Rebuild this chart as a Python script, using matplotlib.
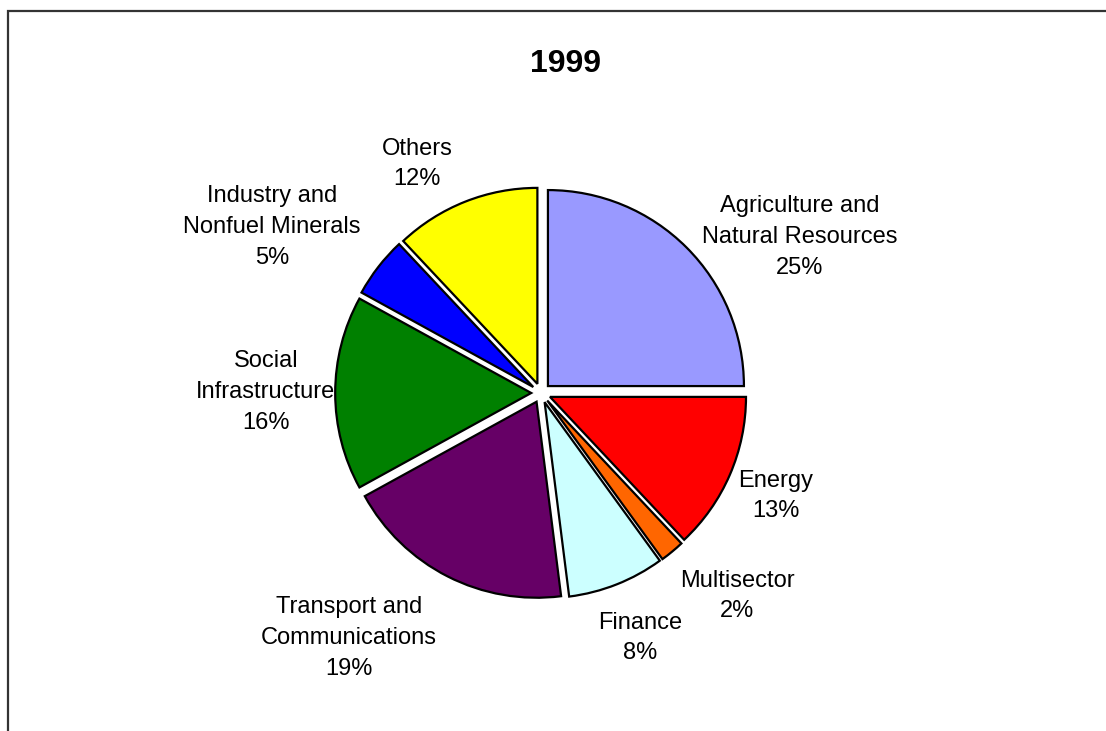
import matplotlib
matplotlib.use('Agg')
import matplotlib.pyplot as plt
from matplotlib.patches import Rectangle

plt.rcParams['font.family'] = ['Liberation Sans', 'DejaVu Sans']

sectors = ['Agriculture and\nNatural Resources', 'Energy', 'Multisector', 'Finance',
           'Transport and\nCommunications', 'Social\nInfrastructure',
           'Industry and\nNonfuel Minerals', 'Others']
shares = [25, 13, 2, 8, 19, 16, 5, 12]
colors = ['#9999FF', '#FF0000', '#FF6600', '#CCFFFF', '#660066', '#008000', '#0000FF', '#FFFF00']

# label centres in pixels (x from left, y from top)
label_px = [(800, 237), (776, 496), (737, 596), (640, 638),
            (349, 638), (266, 392), (272, 227), (417, 164)]

W, H = 1106, 731
fig = plt.figure(figsize=(W / 100, H / 100), dpi=100)

# pie centre about (541, 393) px, radius ~196 px
cx, cy, half = 541, 393, 245
ax = fig.add_axes([(cx - half) / W, (H - cy - half) / H, 2 * half / W, 2 * half / H])
ax.pie(shares, colors=colors, startangle=90, counterclock=False,
       explode=[0.05] * len(shares),
       wedgeprops=dict(edgecolor='black', linewidth=1.6))
ax.set_xlim(-1.25, 1.25)
ax.set_ylim(-1.25, 1.25)
ax.set_aspect('equal')
ax.axis('off')

for name, val, (px, py) in zip(sectors, shares, label_px):
    fig.text(px / W, 1 - py / H, f'{name}\n{val}%', ha='center', va='center',
             fontsize=17, linespacing=1.52)

fig.text(565 / W, 1 - 64 / H, '1999', ha='center', va='center',
         fontsize=23, fontweight='bold')

# chart area border (runs off right and bottom)
fig.patches.append(Rectangle((8 / W, -0.1), 1.2, 1 - 11 / H + 0.1,
                             transform=fig.transFigure, fill=False,
                             edgecolor='#333333', linewidth=1.6))

fig.savefig('out.png', dpi=100)
